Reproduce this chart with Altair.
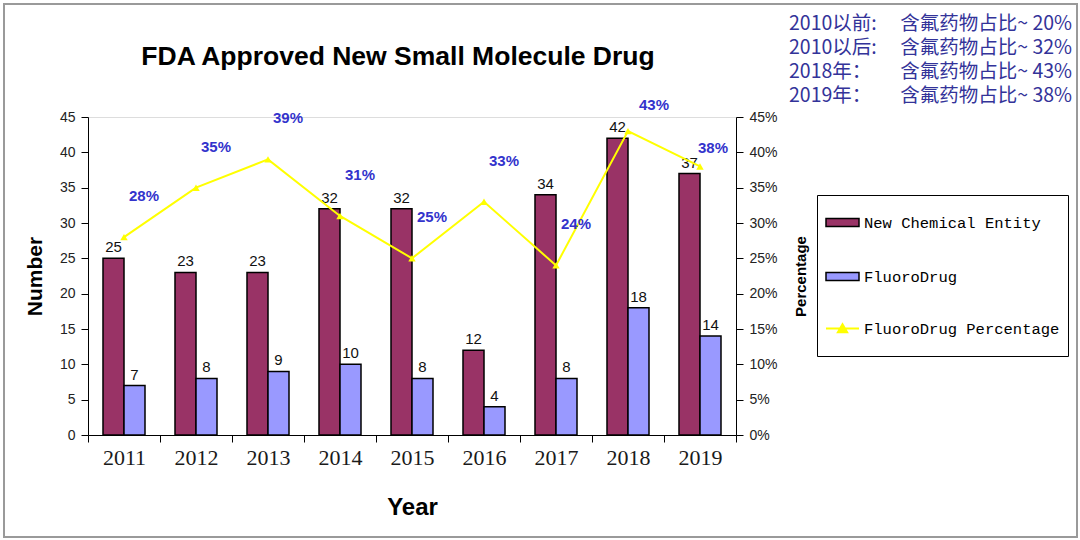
import altair as alt
import pandas as pd

years = ["2011", "2012", "2013", "2014", "2015", "2016", "2017", "2018", "2019"]
nce = [25, 23, 23, 32, 32, 12, 34, 42, 37]
fluoro = [7, 8, 9, 10, 8, 4, 8, 18, 14]
pct = [0.28, 0.35, 0.39, 0.31, 0.25, 0.33, 0.24, 0.43, 0.38]
bar_series = ["New Chemical Entity", "FluoroDrug"]
bar_colors = ["#993366", "#9999FF"]
line_series = ["FluoroDrug Percentage"]
line_colors = ["#FFFF00"]
left_ticks = [0, 5, 10, 15, 20, 25, 30, 35, 40, 45]
right_ticks = [0, 0.05, 0.10, 0.15, 0.20, 0.25, 0.30, 0.35, 0.40, 0.45]
chart_title = "FDA Approved New Small Molecule Drug"
notes_left = ["2010以前:", "2010以后:", "2018年：", "2019年："]
notes_right = ["含氟药物占比~ 20%", "含氟药物占比~ 32%", "含氟药物占比~ 43%", "含氟药物占比~ 38%"]

df = pd.DataFrame({
    "Year": years,
    "New Chemical Entity": nce,
    "FluoroDrug": fluoro,
    "Percentage": pct,
})

base = alt.Chart(df)

x_axis = alt.Axis(
    title="Year", tickBand="extent", labelAngle=0,
    labelFont="Liberation Serif", labelFontSize=22, labelColor="#1a1a1a",
    labelPadding=5, tickSize=7, tickColor="black", domainColor="black",
    titleFont="Liberation Sans", titleFontSize=24, titleFontWeight="bold",
    titleColor="black", titlePadding=27,
)
x_enc = alt.X("Year:N", sort=years, scale=alt.Scale(paddingInner=0, paddingOuter=0), axis=x_axis)
xoff = alt.XOffset(
    "Series:N",
    scale=alt.Scale(domain=bar_series, paddingOuter=0.714, paddingInner=0),
)
left_axis = alt.Axis(
    values=left_ticks, title="Number", grid=False,
    labelFont="Liberation Sans", labelFontSize=14, labelColor="#222",
    labelPadding=6, tickSize=7, tickColor="black", domainColor="black",
    titleFont="Liberation Sans", titleFontSize=21, titleFontWeight="bold",
    titleColor="black", titlePadding=14,
)
y_left = alt.Y("Value:Q", scale=alt.Scale(domain=[0, 45], nice=False), axis=left_axis)

rect_path = "M-1,-0.24H1V0.24H-1Z"
line_path = "M-1,0H1M-0.28,0.22L0,-0.26L0.28,0.22ZM0,-0.9L0,-0.9M0,0.9L0,0.9"

legend_bars = alt.Legend(
    title=None, orient="none", legendX=725, legendY=76, zindex=2,
    padding=12, strokeColor="transparent", fillColor="transparent",
    labelFont="Liberation Mono", labelFontSize=15.5, labelColor="black",
    labelOffset=4, rowPadding=28, labelLimit=400,
    symbolSize=1089, symbolType=rect_path, symbolStrokeColor="black",
    symbolStrokeWidth=1.5, symbolOpacity=1,
)
legend_line = alt.Legend(
    title="\u00a0", titleOrient="top", titleFontSize=15, titlePadding=93,
    orient="none", legendX=729, legendY=78, zindex=1,
    padding=8, strokeColor="black", fillColor="white",
    labelFont="Liberation Mono", labelFontSize=15.5, labelColor="black",
    labelOffset=4, labelLimit=400,
    symbolSize=1089, symbolType=line_path, symbolStrokeColor="#FFFF00",
    symbolFillColor="#FFFF00", symbolStrokeWidth=2, symbolOpacity=1,
)

folded = base.transform_fold(bar_series, as_=["Series", "Value"])

bars = folded.mark_bar(stroke="black", strokeWidth=1.5, opacity=1).encode(
    x=x_enc,
    xOffset=xoff,
    y=y_left,
    color=alt.Color("Series:N", scale=alt.Scale(domain=bar_series, range=bar_colors), legend=legend_bars),
)
bar_labels = folded.mark_text(
    baseline="bottom", dy=-3, font="Liberation Sans", fontSize=15, color="#111"
).encode(x=x_enc, xOffset=xoff, y=y_left, text="Value:Q")

left_layer = alt.layer(bars, bar_labels)

right_axis = alt.Axis(
    orient="right", values=right_ticks, format=".0%", title="Percentage", grid=False,
    labelFont="Liberation Sans", labelFontSize=14, labelColor="#222",
    labelPadding=6, tickSize=7, tickColor="black", domainColor="black",
    titleFont="Liberation Sans", titleFontSize=15, titleFontWeight="bold",
    titleColor="black", titleAngle=270, titleX=64, titleY=159,
    titleAlign="center", titleBaseline="middle",
)
y_right = alt.Y("Percentage:Q", scale=alt.Scale(domain=[0, 0.45], nice=False), axis=right_axis)

line = base.transform_calculate(LineSeries="'FluoroDrug Percentage'").mark_line(strokeWidth=2).encode(
    x=x_enc,
    y=y_right,
    stroke=alt.Stroke("LineSeries:N", scale=alt.Scale(domain=line_series, range=line_colors), legend=legend_line),
)
points = base.mark_point(shape="triangle-up", filled=True, color="#FFFF00", size=55, opacity=1).encode(
    x=x_enc, y=y_right
)
pct_text_style = dict(font="Liberation Sans", fontSize=15, fontWeight="bold", color="#3333CC")


def pct_labels(cond, dx, dy):
    return base.transform_filter(cond).mark_text(dx=dx, dy=dy, **pct_text_style).encode(
        x=x_enc, y=y_right, text=alt.Text("Percentage:Q", format=".0%")
    )


right_layer = alt.layer(
    line, points,
    pct_labels("datum.Year < '2018'", 20, -41),
    pct_labels("datum.Year == '2018'", 26, -26),
    pct_labels("datum.Year == '2019'", 13, -18),
)

one = alt.Chart(pd.DataFrame({"k": [0]}))
title_mark = one.mark_text(
    align="center", baseline="middle", font="Liberation Sans", fontSize=26.5, fontWeight="bold", color="black"
).encode(x=alt.value(310), y=alt.value(-60), text=alt.value(chart_title))

note_style = dict(font="Noto Sans CJK SC", fontSize=19.5, color="#333399", baseline="middle")
note_marks = []
for i, (left_txt, right_txt) in enumerate(zip(notes_left, notes_right)):
    line_y = -93 + 24 * i
    note_marks.append(one.mark_text(align="left", **note_style).encode(
        x=alt.value(701), y=alt.value(line_y), text=alt.value(left_txt)))
    note_marks.append(one.mark_text(align="right", **note_style).encode(
        x=alt.value(984), y=alt.value(line_y), text=alt.value(right_txt)))

frame = one.mark_rect(fillOpacity=0, stroke="#9a9a9a", strokeWidth=2).encode(
    x=alt.value(-84), x2=alt.value(989), y=alt.value(-113), y2=alt.value(420)
)

chart = alt.layer(left_layer, right_layer, title_mark, *note_marks, frame).resolve_scale(
    y="independent"
).properties(
    width=648, height=318,
    autosize="none",
    padding={"left": 88, "top": 117, "right": 344, "bottom": 105},
).configure_view(
    fill="#C0C0C0", stroke="#808080", strokeWidth=1.5
).configure(background="white")

chart.save("out.html", embed_options={"renderer": "svg", "actions": False})
